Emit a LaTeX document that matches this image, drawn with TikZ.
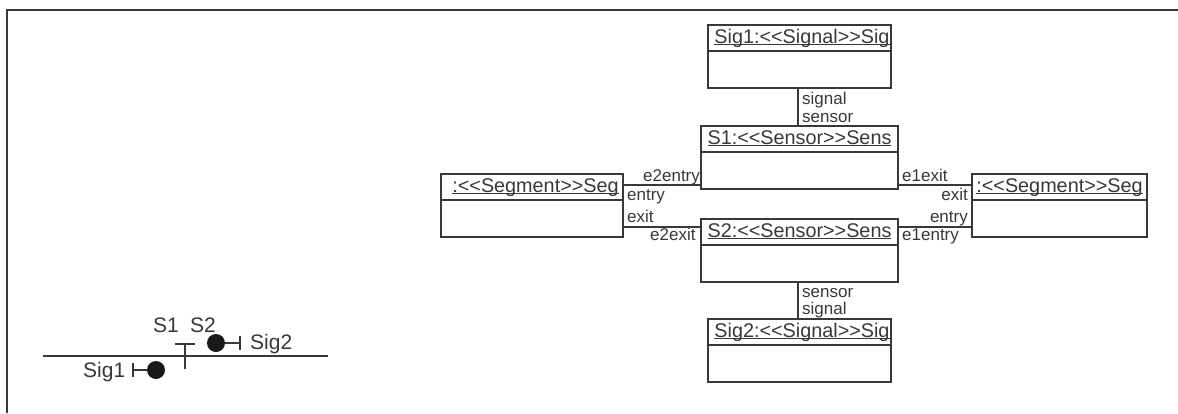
\documentclass[tikz,border=0pt]{standalone}
\usepackage{fontspec}
\setmainfont{Liberation Sans}
\usetikzlibrary{positioning}
\usetikzlibrary{arrows.meta}
\colorlet{inkgray}{black!78}
\newcommand{\stereo}[1]{<{}<#1>{}>}
\newcommand{\instname}[1]{\setbox0\hbox{#1}\rlap{\rule[-2pt]{\wd0}{0.9pt}}\box0}
\tikzset{
	node_head/.style = {
		rectangle,
		draw=inkgray,
		text=inkgray,
		line width=1.2pt,
		inner sep=0pt,
		outer sep=0pt,
		anchor=north west,
		font=\fontsize{19.8}{22}\selectfont,
		text height=18pt,
		text depth=8pt,
		minimum height=26pt
	},
	node_body/.style = {
		rectangle,
		draw=inkgray,
		line width=1.2pt,
		inner sep=0pt,
		outer sep=0pt,
		minimum height=37pt
	},
	node_role/.style = {
		inner sep=0pt,
		text=inkgray,
		font=\fontsize{17}{18}\selectfont,
		anchor=base west
	},
	node_role_r/.style = {
		node_role,
		anchor=base east
	},
	node_name/.style = {
		node_role,
		font=\fontsize{21}{22}\selectfont
	},
	node_dot/.style = {
		circle,
		fill=black!90,
		inner sep=0pt,
		minimum size=18pt
	},
	link/.style = {
		draw=inkgray,
		line width=1.2pt
	},
}
\begin{document}
\begin{tikzpicture}[x=1pt,y=-1pt]
\useasboundingbox (0,0) rectangle (1178,413);
\coordinate (frame_bl) at (7,413);
\coordinate (frame_tl) at (7,10);
\coordinate (frame_tr) at (1178,10);
\draw[link] (frame_bl) -- (frame_tl) -- (frame_tr);

% track layout
\coordinate (track_w) at (43,356);
\coordinate (track_e) at (328,356);
\coordinate (post_low) at (185,369);
\coordinate (post_top) at (185,343);
\coordinate (sig2_end) at (241,343);
\coordinate (sig1_end) at (132,370);
\node [node_dot] (sig2_dot) at (216,343) {};
\node [node_dot] (sig1_dot) at (156,370) {};
\draw[link] (track_w) -- (track_e);
\draw[link,-{Bar[width=20pt,line width=1.8pt]}] (post_low) -- (post_top);
\draw[link,-{Bar[width=14pt,line width=1.8pt]}] (sig2_dot) -- (sig2_end);
\draw[link,-{Bar[width=14pt,line width=1.8pt]}] (sig1_dot) -- (sig1_end);
\node [node_name] (name_s1) at (153,332) {S1};
\node [node_name] (name_s2) at (190,332) {S2};
\node [node_name] (name_sig2) at (250,349) {Sig2};
\node [node_name] (name_sig1) at (83,377) {Sig1};

% instances
\node [node_head, minimum width=183pt] (sig1_head) at (708,25) {\hspace{5pt}\instname{Sig1:\stereo{Signal}Sig}};
\node [node_body, minimum width=183pt, below=0pt of sig1_head] (sig1_body) {};
\node [node_head, minimum width=197pt] (s1_head) at (701,126) {\instname{S1:\stereo{Sensor}Sens}};
\node [node_body, minimum width=197pt, below=0pt of s1_head] (s1_body) {};
\node [node_head, minimum width=197pt] (s2_head) at (701,219) {\instname{S2:\stereo{Sensor}Sens}};
\node [node_body, minimum width=197pt, below=0pt of s2_head] (s2_body) {};
\node [node_head, minimum width=183pt] (sig2_head) at (708,319) {\hspace{5pt}\instname{Sig2:\stereo{Signal}Sig}};
\node [node_body, minimum width=183pt, below=0pt of sig2_head] (sig2_body) {};
\node [node_head, minimum width=182pt] (segl_head) at (441,174) {\hspace{7pt}\instname{:\stereo{Segment}Seg}};
\node [node_body, minimum width=182pt, below=0pt of segl_head] (segl_body) {};
\node [node_head, minimum width=175pt] (segr_head) at (972,174) {\instname{:\stereo{Segment}Seg}};
\node [node_body, minimum width=175pt, below=0pt of segr_head] (segr_body) {};

% links
\draw[link] ([xshift=-1.5pt]sig1_body.south) -- ([xshift=-1.5pt]s1_head.north);
\draw[link] ([xshift=-1.5pt]s2_body.south) -- ([xshift=-1.5pt]sig2_head.north);
\draw[link] ([yshift=4pt]s1_body.south west) -- ([yshift=4pt]s1_body.south west -| segl_head.east);
\draw[link] ([yshift=4pt]s1_body.south east) -- ([yshift=4pt]s1_body.south east -| segr_head.west);
\draw[link] ([yshift=-8pt]s2_head.north west) -- ([yshift=-8pt]s2_head.north west -| segl_head.east);
\draw[link] ([yshift=-8pt]s2_head.north east) -- ([yshift=-8pt]s2_head.north east -| segr_head.west);

% roles
\node [node_role] (role_signal1) at (802,104) {signal};
\node [node_role] (role_sensor1) at (802,122.5) {sensor};
\node [node_role] (role_sensor2) at (802,297) {sensor};
\node [node_role] (role_signal2) at (802,314) {signal};
\node [node_role] (role_e2entry) at (643,181.5) {e2entry};
\node [node_role] (role_entry_l) at (627,200) {entry};
\node [node_role] (role_exit_l) at (627,222) {exit};
\node [node_role] (role_e2exit) at (650,240.5) {e2exit};
\node [node_role] (role_e1exit) at (902,181.5) {e1exit};
\node [node_role_r] (role_exit_r) at (968,200.5) {exit};
\node [node_role_r] (role_entry_r) at (968,222.5) {entry};
\node [node_role] (role_e1entry) at (902,240.5) {e1entry};
\end{tikzpicture}
\end{document}
